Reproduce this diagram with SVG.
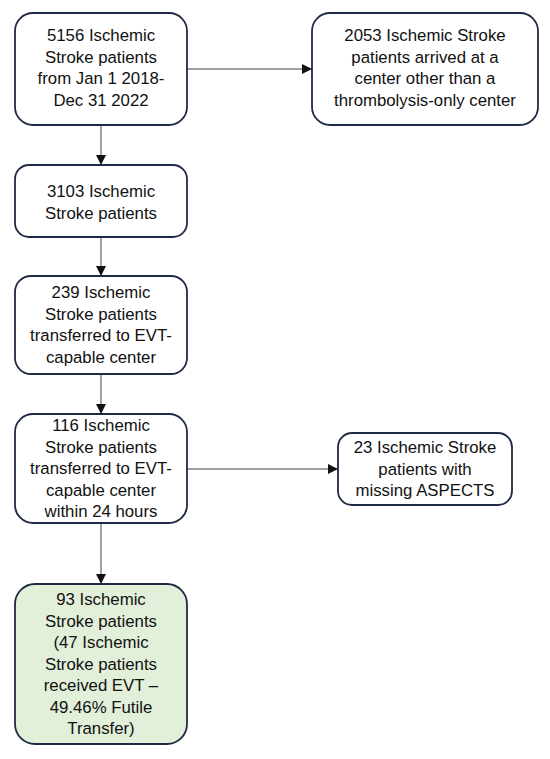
<svg xmlns="http://www.w3.org/2000/svg" width="550" height="759" viewBox="0 0 550 759">
<defs>
<style>
.box{fill:#ffffff;stroke:#1f2a44;stroke-width:1.8}
.green{fill:#e2efd9}
.t{font-family:"Liberation Sans",Arial,sans-serif;font-size:16.8px;fill:#111;text-anchor:middle}
.c{stroke:#444;stroke-width:1;fill:none;marker-end:url(#ah)}
</style>
<marker id="ah" viewBox="0 0 10 10" refX="10" refY="5" markerWidth="10" markerHeight="10" markerUnits="userSpaceOnUse" orient="auto">
<path d="M0,0 L10,5 L0,10 z" fill="#111"/>
</marker>
</defs>
<rect width="550" height="759" fill="#ffffff"/>
<g id="connectors">
<line class="c" x1="101" y1="125" x2="101" y2="165"/>
<line class="c" x1="187" y1="69" x2="312" y2="69"/>
<line class="c" x1="101" y1="237" x2="101" y2="276"/>
<line class="c" x1="101" y1="374" x2="101" y2="414"/>
<line class="c" x1="187" y1="469" x2="338" y2="469"/>
<line class="c" x1="101" y1="523" x2="101" y2="584"/>
</g>
<g id="n1">
<rect class="box" x="15" y="13" width="172" height="112" rx="18"/>
<text class="t" x="101" y="41">5156 Ischemic</text>
<text class="t" x="101" y="62.5">Stroke patients</text>
<text class="t" x="101" y="84">from Jan 1 2018-</text>
<text class="t" x="101" y="105.5">Dec 31 2022</text>
</g>
<g id="n2">
<rect class="box" x="312" y="13" width="226" height="112" rx="18"/>
<text class="t" x="425" y="41">2053 Ischemic Stroke</text>
<text class="t" x="425" y="62.5">patients arrived at a</text>
<text class="t" x="425" y="84">center other than a</text>
<text class="t" x="425" y="105.5">thrombolysis-only center</text>
</g>
<g id="n3">
<rect class="box" x="15" y="165" width="172" height="72" rx="14"/>
<text class="t" x="101" y="197">3103 Ischemic</text>
<text class="t" x="101" y="218.5">Stroke patients</text>
</g>
<g id="n4">
<rect class="box" x="15" y="276" width="172" height="98" rx="16"/>
<text class="t" x="101" y="298">239 Ischemic</text>
<text class="t" x="101" y="319.5">Stroke patients</text>
<text class="t" x="101" y="341">transferred to EVT-</text>
<text class="t" x="101" y="362.5">capable center</text>
</g>
<g id="n5">
<rect class="box" x="15" y="414" width="172" height="109" rx="18"/>
<text class="t" x="101" y="431">116 Ischemic</text>
<text class="t" x="101" y="452.5">Stroke patients</text>
<text class="t" x="101" y="474">transferred to EVT-</text>
<text class="t" x="101" y="495.5">capable center</text>
<text class="t" x="101" y="517">within 24 hours</text>
</g>
<g id="n6">
<rect class="box" x="338" y="433" width="174" height="72" rx="14"/>
<text class="t" x="425" y="453">23 Ischemic Stroke</text>
<text class="t" x="425" y="474.5">patients with</text>
<text class="t" x="425" y="496">missing ASPECTS</text>
</g>
<g id="n7">
<rect class="box green" x="15" y="584" width="172" height="160" rx="20"/>
<text class="t" x="101" y="605">93 Ischemic</text>
<text class="t" x="101" y="626.5">Stroke patients</text>
<text class="t" x="101" y="648">(47 Ischemic</text>
<text class="t" x="101" y="669.5">Stroke patients</text>
<text class="t" x="101" y="691">received EVT –</text>
<text class="t" x="101" y="712.5">49.46% Futile</text>
<text class="t" x="101" y="734">Transfer)</text>
</g>
</svg>
